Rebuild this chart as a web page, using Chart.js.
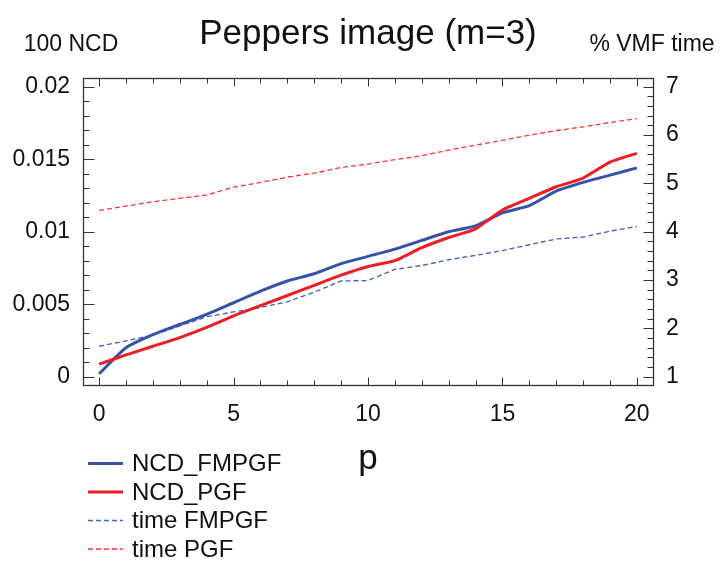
<!DOCTYPE html>
<html><head><meta charset="utf-8">
<script src="https://cdn.jsdelivr.net/npm/chart.js@4/dist/chart.umd.min.js"></script>
<style>html,body{margin:0;padding:0;background:#fff;}#wrap{width:724px;height:564px;}</style>
</head><body><div id="wrap"><canvas id="c" width="724" height="564"></canvas></div>
<script>
// ---- data ----
const pValues   = [0,1,2,3,4,5,6,7,8,9,10,11,12,13,14,15,16,17,18,19,20];
const ncdFMPGF  = [0.0002,0.0020,0.0029,0.0036,0.0043,0.0051,0.0059,0.0066,0.0071,0.0078,0.0083,0.0088,0.0094,0.0100,0.0104,0.0113,0.0118,0.0128,0.0134,0.0139,0.0144];
const ncdPGF    = [0.00087,0.0015,0.0021,0.0027,0.0034,0.0042,0.0049,0.0056,0.0063,0.0070,0.0076,0.0080,0.0089,0.0096,0.0102,0.0115,0.0123,0.0131,0.0137,0.0148,0.0154];
const timeFMPGF = [1.63,1.74,1.86,2.05,2.24,2.34,2.43,2.55,2.75,2.98,2.99,3.22,3.30,3.42,3.51,3.61,3.73,3.85,3.89,4.01,4.11];
const timePGF   = [4.44,4.53,4.62,4.69,4.76,4.92,5.02,5.13,5.21,5.33,5.40,5.49,5.57,5.69,5.79,5.89,6.00,6.09,6.17,6.26,6.34];
const seriesLabels = ['NCD_FMPGF','NCD_PGF','time FMPGF','time PGF'];
const xTicks = [0,5,10,15,20];
const leftTicks = [0,0.005,0.01,0.015,0.02];
const leftTickLabels = ['0','0.005','0.01','0.015','0.02'];
const rightTicks = [1,2,3,4,5,6,7];
const chartTitle = 'Peppers image (m=3)';
const xTitle = 'p';
const leftTitle = '100 NCD';
const rightTitle = '% VMF time';

const FONT = '"Liberation Sans", Arial, Helvetica, sans-serif';
const BLUE = '#3552a8', RED = '#ee1d23', BLUE_D = '#3f5ec0', RED_D = '#ff3333';

const toXY = arr => arr.map((v, i) => ({x: pValues[i], y: v}));

const frameTicks = {
  id: 'frameTicks',
  afterDraw(chart) {
    const {ctx, chartArea: a, scales} = chart;
    const L = Math.round(a.left) + 0.5, R = Math.round(a.right) + 0.5;
    const T = Math.round(a.top) + 0.5, B = Math.round(a.bottom) + 0.5;
    ctx.save();
    ctx.strokeStyle = '#333';
    ctx.lineWidth = 1.3;
    ctx.strokeRect(L, T, R - L, B - T);
    ctx.lineWidth = 1;
    const seg = (x1, y1, x2, y2) => { ctx.beginPath(); ctx.moveTo(x1, y1); ctx.lineTo(x2, y2); ctx.stroke(); };
    for (let v = 0; v <= 20; v += 1) {
      const px = Math.round(scales.x.getPixelForValue(v)) + 0.5;
      const len = v % 5 === 0 ? 8 : 5;
      seg(px, B, px, B - len);
      seg(px, T, px, T + len);
    }
    for (let k = 0; k <= 20; k++) {
      const py = Math.round(scales.y.getPixelForValue(k * 0.001)) + 0.5;
      const len = k % 5 === 0 ? 11 : 6;
      seg(L, py, L + len, py);
    }
    for (let k = 0; k <= 30; k++) {
      const py = Math.round(scales.y1.getPixelForValue(1 + k * 0.2)) + 0.5;
      const len = k % 5 === 0 ? 10 : 6;
      seg(R, py, R - len, py);
    }
    ctx.fillStyle = '#111';
    ctx.font = '23px ' + FONT;
    ctx.textBaseline = 'alphabetic';
    ctx.textAlign = 'center';
    ctx.fillText(leftTitle, a.left - 12, 51);
    ctx.fillText(rightTitle, a.right - 1, 51);
    const rows = [463.5, 492, 520.5, 549];
    ctx.font = '24px ' + FONT;
    ctx.textAlign = 'left';
    ctx.textBaseline = 'middle';
    chart.data.datasets.forEach((ds, i) => {
      const y = rows[i];
      ctx.save();
      ctx.strokeStyle = ds.borderColor;
      ctx.lineWidth = ds.borderWidth;
      ctx.setLineDash(ds.borderDash || []);
      seg(88, y, 123, y);
      ctx.restore();
      ctx.fillStyle = '#111';
      ctx.fillText(ds.label, 132, y + 1);
    });
    ctx.restore();
  }
};

const hide = {drawOnChartArea: false, drawTicks: false};

new Chart(document.getElementById('c'), {
  type: 'line',
  data: {
    datasets: [
      {label: seriesLabels[0], data: toXY(ncdFMPGF), yAxisID: 'y', borderColor: BLUE, borderWidth: 3, pointRadius: 0, tension: 0.2, order: 2},
      {label: seriesLabels[1], data: toXY(ncdPGF), yAxisID: 'y', borderColor: RED, borderWidth: 3, pointRadius: 0, tension: 0.2, order: 1},
      {label: seriesLabels[2], data: toXY(timeFMPGF), yAxisID: 'y1', borderColor: BLUE_D, borderWidth: 1.3, borderDash: [5, 3], pointRadius: 0, tension: 0, order: 3},
      {label: seriesLabels[3], data: toXY(timePGF), yAxisID: 'y1', borderColor: RED_D, borderWidth: 1.3, borderDash: [5, 3], pointRadius: 0, tension: 0, order: 4}
    ]
  },
  options: {
    responsive: false,
    animation: false,
    devicePixelRatio: 1,
    layout: {padding: {left: 0, right: 0, top: 0, bottom: 91}},
    plugins: {
      legend: {display: false},
      tooltip: {enabled: false},
      title: {
        display: true, text: chartTitle, fullSize: false,
        color: '#111', font: {family: FONT, size: 35, weight: 'normal'},
        padding: {top: 13, bottom: 23}
      }
    },
    scales: {
      x: {
        type: 'linear', position: 'bottom', min: -0.6, max: 20.6,
        afterBuildTicks: s => { s.ticks = xTicks.map(v => ({value: v})); },
        ticks: {color: '#111', font: {family: FONT, size: 23}, padding: 15, maxRotation: 0},
        grid: hide, border: {display: false},
        title: {display: true, text: xTitle, color: '#111', font: {family: FONT, size: 35, lineHeight: 0.8}, padding: {top: 2, bottom: 0}}
      },
      y: {
        type: 'linear', position: 'left', min: -0.0006, max: 0.0206,
        afterBuildTicks: s => { s.ticks = leftTicks.map(v => ({value: v})); },
        afterFit: s => { s.width = 83; },
        ticks: {color: '#111', font: {family: FONT, size: 23}, padding: 13,
                callback: (v) => { const i = leftTicks.findIndex(t => Math.abs(t - v) < 1e-9); return i >= 0 ? leftTickLabels[i] : ''; }},
        grid: hide, border: {display: false}
      },
      y1: {
        type: 'linear', position: 'right', min: 0.82, max: 7.18,
        afterBuildTicks: s => { s.ticks = rightTicks.map(v => ({value: v})); },
        afterFit: s => { s.width = 71; },
        ticks: {color: '#111', font: {family: FONT, size: 23}, padding: 13, callback: v => String(v)},
        grid: hide, border: {display: false}
      }
    }
  },
  plugins: [frameTicks]
});
</script></body></html>
